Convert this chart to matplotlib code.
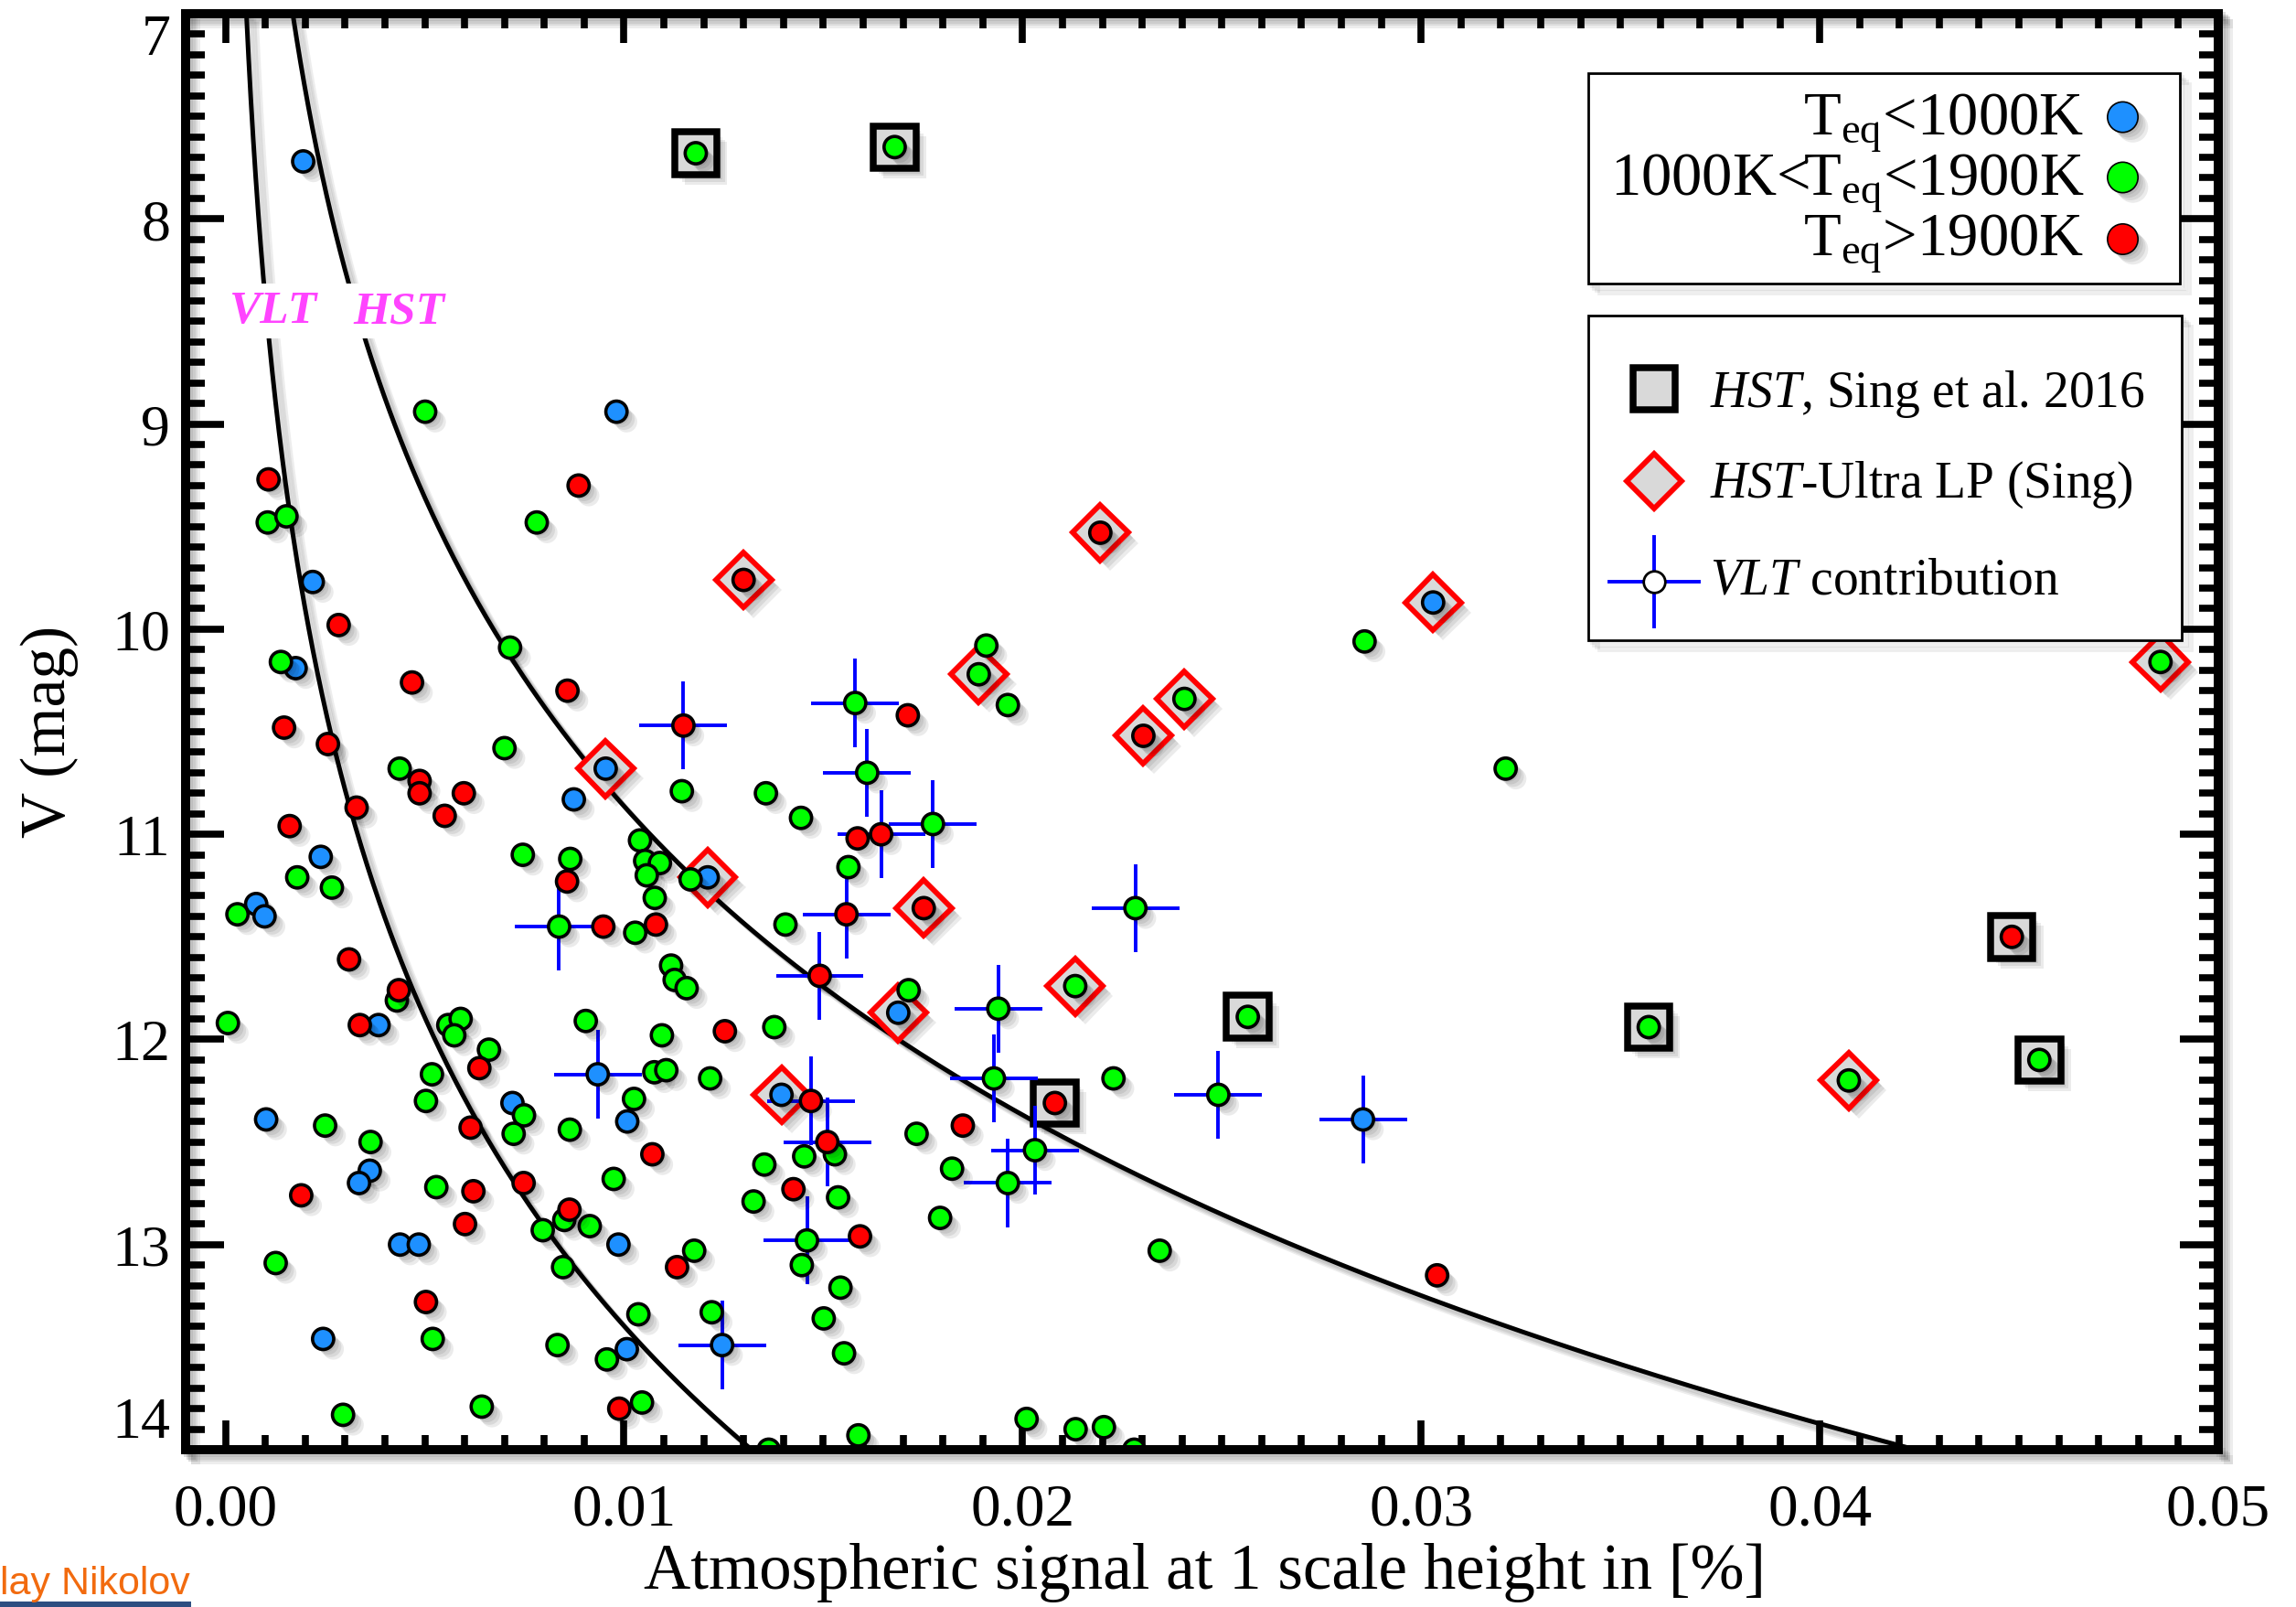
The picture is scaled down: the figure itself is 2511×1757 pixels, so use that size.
import matplotlib
matplotlib.use('Agg')
import numpy as np
import matplotlib.pyplot as plt
import matplotlib.patheffects as pe
from matplotlib.ticker import MultipleLocator, FormatStrFormatter
from matplotlib.patches import Rectangle

plt.rcParams['font.family'] = ['Liberation Serif', 'DejaVu Serif']
plt.rcParams['mathtext.fontset'] = 'custom'
plt.rcParams['mathtext.rm'] = 'Liberation Serif'
plt.rcParams['mathtext.it'] = 'Liberation Serif:italic'
plt.rcParams['mathtext.bf'] = 'Liberation Serif:bold'

# --- planets, split by equilibrium temperature (signal in %, V mag) ---
blue_x = [0.00195, 0.00981, 0.00219, 0.00176, 0.00954, 0.00874, 0.00239, 0.00077,
          0.00098, 0.00384, 0.0121, 0.01688, 0.00102, 0.00362, 0.00335, 0.0072,
          0.00934, 0.01008, 0.00438, 0.00485, 0.00986, 0.00245, 0.01007, 0.01395,
          0.01246, 0.02854, 0.0303]
blue_v = [7.72, 8.94, 9.77, 10.19, 10.68, 10.83, 11.11, 11.34,
          11.40, 11.93, 11.21, 11.87, 12.39, 12.64, 12.70, 12.31,
          12.17, 12.40, 13.00, 13.00, 13.00, 13.46, 13.51, 12.27,
          13.49, 12.39, 9.87]

green_x = [0.0118, 0.01679, 0.00501, 0.00106, 0.00153, 0.00781, 0.00714, 0.00139,
           0.0070, 0.00437, 0.01145, 0.0018, 0.00267, 0.00746, 0.00865, 0.0104,
           0.01053, 0.0109, 0.01057, 0.01077, 0.01167, 0.0003, 0.0043, 0.00006,
           0.00559, 0.0059, 0.00574, 0.00661, 0.00518, 0.00503, 0.0025, 0.00364,
           0.00529, 0.00749, 0.00723, 0.00126, 0.0085, 0.00796, 0.00914, 0.00847,
           0.0052, 0.00833, 0.01036, 0.00957, 0.00295, 0.00643, 0.01045, 0.00837,
           0.01028, 0.01118, 0.01127, 0.01157, 0.00904, 0.01095, 0.01076, 0.01106,
           0.01025, 0.00864, 0.00974, 0.01176, 0.01909, 0.0189, 0.01963, 0.02406,
           0.0158, 0.0161, 0.01356, 0.01444, 0.01775, 0.01563, 0.01405, 0.02283,
           0.01714, 0.01939, 0.01928, 0.02132, 0.01377, 0.01216, 0.02228, 0.01529,
           0.01452, 0.01352, 0.01325, 0.01537, 0.01459, 0.01446, 0.01543, 0.0122,
           0.01501, 0.01552, 0.01588, 0.01363, 0.0201, 0.02133, 0.02204, 0.0228,
           0.01734, 0.01823, 0.02031, 0.01963, 0.01793, 0.02344, 0.02858, 0.03212,
           0.02565, 0.03571, 0.02491, 0.04073, 0.04855, 0.04551]
green_v = [7.68, 7.65, 8.94, 9.48, 9.45, 9.48, 10.09, 10.16,
           10.58, 10.68, 10.79, 11.21, 11.26, 11.10, 11.12, 11.03,
           11.13, 11.14, 11.20, 11.31, 11.22, 11.39, 11.81, 11.92,
           11.93, 11.90, 11.98, 12.05, 12.17, 12.30, 12.42, 12.50,
           12.72, 12.37, 12.46, 13.09, 12.88, 12.93, 12.91, 13.11,
           13.46, 13.49, 13.34, 13.56, 13.83, 13.79, 13.77, 11.45,
           11.48, 11.64, 11.71, 11.75, 11.91, 11.98, 12.16, 12.15,
           12.29, 12.44, 12.68, 13.03, 10.08, 10.22, 10.37, 10.34,
           10.36, 10.70, 10.80, 10.92, 10.95, 11.16, 11.44, 11.36,
           11.76, 11.85, 12.19, 11.74, 11.94, 12.19, 12.19, 12.56,
           12.57, 12.61, 12.79, 12.77, 12.98, 13.10, 13.21, 13.33,
           13.36, 13.53, 13.93, 14.0, 13.85, 13.90, 13.89, 14.0,
           12.46, 12.63, 12.54, 12.70, 12.87, 13.03, 10.06, 10.68,
           11.89, 11.94, 12.27, 12.20, 10.16, 12.10]

red_x = [0.00108, 0.00886, 0.00284, 0.00468, 0.00858, 0.01149, 0.00147, 0.00257,
         0.00487, 0.00487, 0.00598, 0.0055, 0.00329, 0.00161, 0.00857, 0.0031,
         0.00435, 0.00337, 0.00637, 0.0019, 0.00622, 0.00615, 0.00748, 0.00601,
         0.00863, 0.00503, 0.00988, 0.00948, 0.0108, 0.01071, 0.01133, 0.0130,
         0.02195, 0.02303, 0.01712, 0.01586, 0.01645, 0.01558, 0.01752, 0.01491,
         0.01253, 0.01469, 0.0151, 0.01425, 0.01592, 0.0185, 0.02081, 0.0304,
         0.04482]
red_v = [9.27, 9.30, 9.98, 10.26, 10.30, 10.47, 10.48, 10.56,
         10.74, 10.80, 10.80, 10.91, 10.87, 10.96, 11.23, 11.61,
         11.76, 11.93, 12.14, 12.76, 12.74, 12.43, 12.70, 12.90,
         12.83, 13.28, 13.80, 11.45, 11.44, 12.56, 13.11, 9.76,
         9.53, 10.52, 10.42, 11.02, 11.00, 11.39, 11.36, 11.69,
         11.96, 12.30, 12.50, 12.73, 12.96, 12.42, 12.31, 13.15,
         11.50]

# HST, Sing et al. 2016
sing_x = [0.0118, 0.01679, 0.02565, 0.03571, 0.02081, 0.04482, 0.04551]
sing_v = [7.68, 7.65, 11.89, 11.94, 12.31, 11.50, 12.10]

# HST-Ultra LP (Sing)
ulp_x = [0.0130, 0.02195, 0.0303, 0.04855, 0.0189, 0.02406, 0.02303,
         0.00954, 0.0121, 0.01752, 0.01688, 0.02132, 0.01395, 0.04073]
ulp_v = [9.76, 9.53, 9.87, 10.16, 10.22, 10.34, 10.52,
         10.68, 11.21, 11.36, 11.87, 11.74, 12.27, 12.20]

# VLT contribution
vlt_x = [0.01149, 0.0158, 0.0161, 0.01645, 0.01775, 0.01558, 0.02283, 0.01491,
         0.01939, 0.01928, 0.01469, 0.0151, 0.01459, 0.01246, 0.02031, 0.01963,
         0.02491, 0.02854, 0.00837, 0.00934]
vlt_v = [10.47, 10.36, 10.70, 11.00, 10.95, 11.39, 11.36, 11.69,
         11.85, 12.19, 12.30, 12.50, 12.98, 13.49, 12.54, 12.70,
         12.27, 12.39, 11.45, 12.17]
vlt_xerr = 0.0011
vlt_verr = 0.215

# photon-noise limits: signal reached at V=14
vlt_limit14 = 0.0132
hst_limit14 = 0.0424

BLUE = '#1e90ff'
GREEN = '#00ff00'
RED = '#ff0000'


def soft_shadow(n=4, step=2.0, alpha=0.08):
    effs = [pe.SimplePatchShadow(offset=(step * (i + 1), -step * (i + 1)),
                                 shadow_rgbFace='k', alpha=alpha) for i in range(n)]
    return effs + [pe.Normal()]


def line_shadow(n=4, step=2.0, alpha=0.07):
    effs = [pe.SimpleLineShadow(offset=(step * (i + 1), -step * (i + 1)),
                                shadow_color='k', alpha=alpha) for i in range(n)]
    return effs + [pe.Normal()]


fig = plt.figure(figsize=(25.11, 17.58), dpi=100)
ax = fig.add_axes([203 / 2511, 1 - 1586 / 1758, 2223 / 2511, 1570 / 1758])

# limit curves
vgrid = np.linspace(7, 14.2, 400)
ax.plot(vlt_limit14 * 10 ** (0.2 * (vgrid - 14)), vgrid, color='k', lw=3.6,
        zorder=2, path_effects=line_shadow())
ax.plot(hst_limit14 * 10 ** (0.2 * (vgrid - 14)), vgrid, color='k', lw=3.6,
        zorder=2, path_effects=line_shadow())

ax.text(0.0012, 8.45, 'VLT', color='#ff44ff', fontsize=37, fontweight='bold',
        fontstyle='italic', ha='center', va='center', zorder=3,
        bbox=dict(facecolor='white', edgecolor='none', pad=5))
ax.text(0.00436, 8.45, 'HST', color='#ff44ff', fontsize=37, fontweight='bold',
        fontstyle='italic', ha='center', va='center', zorder=3,
        bbox=dict(facecolor='white', edgecolor='none', pad=5))

# programme markers
ax.plot(sing_x, sing_v, ls='none', marker='s', ms=33.5, mew=5.4, mec='k',
        mfc='#d9d9d9', zorder=3, path_effects=soft_shadow())
ax.plot(ulp_x, ulp_v, ls='none', marker='D', ms=31, mew=4.2, mec=RED,
        mfc='#d9d9d9', zorder=3, path_effects=soft_shadow())
ax.errorbar(vlt_x, vlt_v, xerr=vlt_xerr, yerr=vlt_verr, fmt='none',
            ecolor='#0000ff', elinewidth=2.8, capsize=0, zorder=4)

for xs, vs, c in [(blue_x, blue_v, BLUE), (green_x, green_v, GREEN), (red_x, red_v, RED)]:
    ax.plot(xs, vs, ls='none', marker='o', ms=16.7, mew=2.6, mec='k', mfc=c,
            zorder=5, path_effects=soft_shadow())

ax.set_xlim(-0.001, 0.05)
ax.set_ylim(14, 7)
ax.xaxis.set_major_locator(MultipleLocator(0.01))
ax.xaxis.set_minor_locator(MultipleLocator(0.001))
ax.xaxis.set_major_formatter(FormatStrFormatter('%.2f'))
ax.yaxis.set_major_locator(MultipleLocator(1))
ax.yaxis.set_minor_locator(MultipleLocator(0.1))

for s in ax.spines.values():
    s.set_linewidth(7.2)
    s.set_zorder(8)
    s.set_path_effects(line_shadow())

ax.tick_params(which='both', direction='in', top=True, right=True, width=5.5)
ax.tick_params(axis='x', which='major', length=23, pad=26, labelsize=47)
ax.tick_params(axis='x', which='minor', length=11.5)
ax.tick_params(axis='y', which='major', length=30, pad=12, labelsize=46)
ax.tick_params(axis='y', which='minor', length=15)

fig.text(1317 / 2511, 1 - 1720 / 1758, 'Atmospheric signal at 1 scale height in [%]',
         fontsize=51, ha='center', va='center')
fig.text(54 / 2511, 1 - 800 / 1758, 'V (mag)', fontsize=50, rotation=90,
         ha='center', va='center')

# legend 1: temperature classes
ax.add_patch(Rectangle((0.690, 0.8121), 0.291, 0.1465, transform=ax.transAxes,
                       facecolor='white', edgecolor='k', lw=2, zorder=9,
                       path_effects=line_shadow()))
leg1 = [(r'T$_{\mathrm{eq}}$<1000K', BLUE, 0.916, 0.928),
        (r'1000K<T$_{\mathrm{eq}}$<1900K', GREEN, 0.874, 0.886),
        (r'T$_{\mathrm{eq}}$>1900K', RED, 0.832, 0.843)]
for label, c, yb, yd in leg1:
    ax.text(0.934, yb, label, transform=ax.transAxes, fontsize=48,
            ha='right', va='baseline', zorder=10)
    ax.plot([0.953], [yd], transform=ax.transAxes, marker='o', ms=24, mew=1.2,
            mec='k', mfc=c, ls='none', clip_on=False, zorder=10,
            path_effects=soft_shadow())

# legend 2: programmes
ax.add_patch(Rectangle((0.690, 0.5637), 0.292, 0.2261, transform=ax.transAxes,
                       facecolor='white', edgecolor='k', lw=2, zorder=9,
                       path_effects=line_shadow()))
ax.plot([0.7224], [0.7389], transform=ax.transAxes, marker='s', ms=33.5, mew=5.4,
        mec='k', mfc='#d9d9d9', ls='none', clip_on=False, zorder=10)
ax.plot([0.7224], [0.6745], transform=ax.transAxes, marker='D', ms=31, mew=4.2,
        mec=RED, mfc='#d9d9d9', ls='none', clip_on=False, zorder=10)
ax.plot([0.7224 - 0.022, 0.7224 + 0.022], [0.6045, 0.6045], transform=ax.transAxes,
        color='#0000ff', lw=2.8, clip_on=False, zorder=10)
ax.plot([0.7224, 0.7224], [0.6045 - 0.0312, 0.6045 + 0.0312], transform=ax.transAxes,
        color='#0000ff', lw=2.8, clip_on=False, zorder=10)
ax.plot([0.7224], [0.6045], transform=ax.transAxes, marker='o', ms=17, mew=2,
        mec='k', mfc='white', ls='none', clip_on=False, zorder=11)
leg2 = [(r'$\mathit{HST}$, Sing et al. 2016', 0.7268),
        (r'$\mathit{HST}$-Ultra LP (Sing)', 0.6637),
        (r'$\mathit{VLT}$ contribution', 0.5968)]
for label, yb in leg2:
    ax.text(0.750, yb, label, transform=ax.transAxes, fontsize=40,
            ha='left', va='baseline', zorder=10)

# page remnant at the lower left
fig.text(0.0, 1 - 1732 / 1758, 'lay Nikolov', color='#f26b0f',
         fontsize=31, family='Liberation Sans', ha='left', va='center')
fig.patches.append(Rectangle((0, 0), 209 / 2511, 6 / 1758, transform=fig.transFigure,
                             facecolor='#2d4e80', edgecolor='none'))

# keep the end labels of the V axis inside the frame, as in the original
fig.canvas.draw()
yticks = ax.yaxis.get_major_ticks()
ylocs = ax.yaxis.get_majorticklocs()
for t, loc in zip(yticks, ylocs):
    if abs(loc - 7) < 1e-6:
        t.label1.set_va('top')
    elif abs(loc - 14) < 1e-6:
        t.label1.set_va('bottom')

fig.savefig('out.png', dpi=100)
